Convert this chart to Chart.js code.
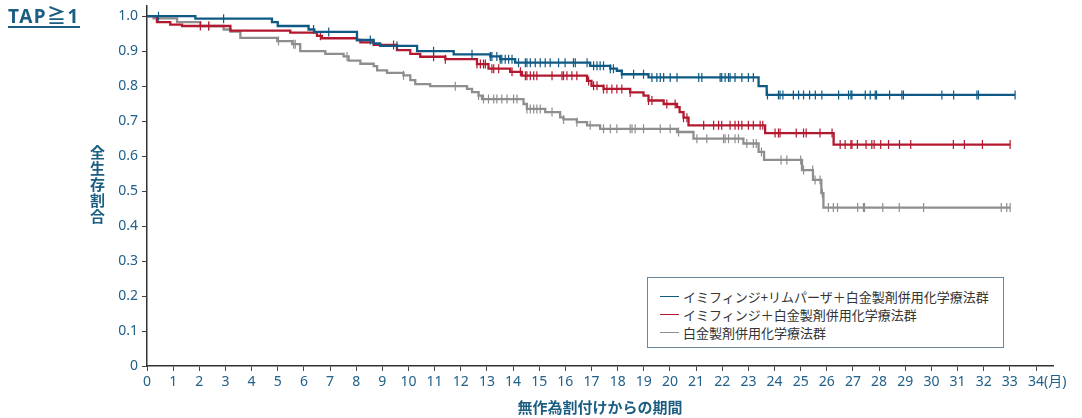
<!DOCTYPE html>
<html><head><meta charset="utf-8">
<script src="https://cdn.jsdelivr.net/npm/chart.js@4"></script>
<style>
html,body{margin:0;padding:0;background:#fff;}
#wrap{position:relative;width:1082px;height:418px;overflow:hidden;}
#c{position:absolute;left:0;top:0;}
#title{position:absolute;left:8px;top:1px;font:bold 19px "Noto Sans","Noto Sans CJK JP",sans-serif;color:#1b5e82;text-decoration:underline;text-underline-offset:3px;text-decoration-thickness:1.5px;letter-spacing:1.5px;}
#ytitle{position:absolute;left:87px;top:145px;writing-mode:vertical-rl;font:bold 15px "Noto Sans CJK JP",sans-serif;color:#1b5e82;letter-spacing:1px;}
#legend{position:absolute;left:647px;top:277px;width:357px;height:71px;border:1px solid #6b8698;box-sizing:border-box;font:13px "Noto Sans CJK JP",sans-serif;color:#333;background:#fff;}
.item{position:absolute;left:12px;height:18px;display:flex;align-items:center;white-space:nowrap;}
.sw{display:inline-block;width:19px;height:0;border-top:1.5px solid;margin-right:4px;}
</style>
</head><body>
<div id="wrap">
<canvas id="c" width="1082" height="418"></canvas>
<div id="title">TAP≧1</div>
<div id="ytitle">全生存割合</div>
<div id="legend"></div>
</div>
<script>
// ---- data ----
const seriesNames = ["イミフィンジ+リムパーザ＋白金製剤併用化学療法群", "イミフィンジ＋白金製剤併用化学療法群", "白金製剤併用化学療法群"];
const seriesColors = ["#0f5a84", "#b3182f", "#8e8e8e"];

const blueT = [0, 1.85, 4.78, 5.0, 6.18, 6.4, 8.03, 8.67, 8.92, 10.33, 11.73, 13.13, 13.51, 14.08, 16.95, 17.72, 17.97, 18.16, 19.18, 23.39, 23.70, 33.2];
const blueS = [1.0, 0.993, 0.983, 0.972, 0.962, 0.955, 0.932, 0.922, 0.915, 0.900, 0.891, 0.885, 0.877, 0.867, 0.858, 0.850, 0.844, 0.834, 0.825, 0.800, 0.775, 0.775];

const redT = [0, 0.38, 0.89, 1.34, 3.19, 5.48, 6.50, 6.69, 8.03, 8.16, 8.67, 9.56, 10.07, 10.45, 11.41, 12.62, 13.06, 13.89, 14.34, 16.83, 17.0, 17.46, 18.48, 18.99, 19.18, 19.76, 20.27, 20.37, 20.52, 20.71, 23.64, 26.26, 33.01];
const redS = [1.0, 0.983, 0.976, 0.972, 0.959, 0.953, 0.944, 0.937, 0.932, 0.925, 0.918, 0.903, 0.892, 0.884, 0.877, 0.863, 0.850, 0.841, 0.830, 0.815, 0.801, 0.792, 0.782, 0.773, 0.759, 0.749, 0.740, 0.726, 0.710, 0.688, 0.666, 0.633, 0.633];

const grayT = [0, 0.25, 1.15, 2.04, 2.93, 3.19, 3.57, 4.98, 5.55, 5.86, 6.82, 7.52, 7.71, 8.16, 8.67, 8.80, 9.18, 9.81, 10.07, 10.26, 10.83, 12.24, 12.43, 12.68, 12.81, 14.40, 14.53, 15.23, 15.80, 15.93, 16.44, 16.83, 17.33, 20.27, 20.90, 22.81, 23.39, 23.60, 25.05, 25.47, 25.79, 25.87, 33.01];
const grayS = [1.0, 0.994, 0.983, 0.972, 0.962, 0.956, 0.938, 0.929, 0.920, 0.900, 0.892, 0.885, 0.873, 0.864, 0.857, 0.845, 0.838, 0.831, 0.817, 0.806, 0.800, 0.792, 0.783, 0.773, 0.763, 0.749, 0.735, 0.726, 0.711, 0.705, 0.697, 0.688, 0.678, 0.669, 0.650, 0.636, 0.612, 0.589, 0.560, 0.532, 0.494, 0.453, 0.453];

const blueCens = [0.44, 2.93, 6.37, 6.95, 8.54, 9.56, 10.96, 12.43, 13.13, 13.19, 13.38, 13.51, 13.57, 13.70, 13.83, 13.96, 14.21, 14.47, 14.53, 14.66, 14.85, 15.04, 15.23, 15.42, 15.74, 15.99, 16.31, 16.38, 16.83, 17.08, 17.21, 17.33, 17.46, 17.72, 17.84, 18.16, 18.61, 18.99, 19.31, 19.50, 19.63, 19.76, 20.01, 20.27, 21.10, 21.22, 21.92, 21.98, 22.11, 22.24, 22.30, 22.49, 22.75, 23.00, 23.19, 23.73, 24.15, 24.21, 24.32, 24.72, 24.92, 25.11, 25.34, 25.56, 25.81, 26.45, 26.83, 26.92, 26.96, 27.47, 27.66, 27.85, 27.90, 28.40, 28.87, 28.93, 30.40, 30.85, 31.74, 31.80, 33.20];
const redCens = [2.04, 2.36, 6.63, 9.43, 10.96, 11.41, 12.62, 12.75, 12.87, 12.94, 13.19, 13.26, 13.45, 13.96, 14.28, 14.47, 14.53, 14.66, 14.79, 14.91, 15.49, 15.87, 15.93, 16.06, 16.25, 16.44, 16.89, 17.08, 17.21, 17.46, 17.59, 17.78, 17.97, 18.16, 18.48, 19.18, 19.31, 19.88, 20.20, 20.52, 20.65, 21.29, 21.67, 21.86, 21.98, 22.30, 22.49, 22.62, 22.75, 23.00, 23.19, 23.45, 23.55, 24.02, 24.15, 24.21, 24.83, 25.11, 25.21, 25.74, 26.20, 26.51, 26.70, 26.92, 26.96, 27.17, 27.50, 27.72, 27.81, 28.06, 28.36, 28.78, 29.21, 30.84, 31.26, 31.95, 33.01];
const grayCens = [2.36, 5.03, 5.61, 5.67, 7.65, 9.81, 11.79, 12.68, 12.87, 13.06, 13.26, 13.38, 13.57, 13.77, 14.02, 14.15, 14.53, 14.66, 14.79, 14.91, 15.04, 15.49, 15.93, 16.44, 16.95, 17.46, 17.72, 17.97, 18.48, 18.55, 18.67, 18.99, 19.63, 20.01, 20.33, 21.03, 21.41, 22.05, 22.11, 22.24, 22.49, 22.62, 22.94, 23.19, 23.30, 23.50, 24.25, 24.47, 25.00, 25.11, 25.46, 25.55, 25.74, 25.83, 26.06, 26.25, 26.41, 27.18, 27.40, 27.44, 28.14, 28.77, 29.70, 32.67, 32.88, 33.01];

const xTicks = [0,1,2,3,4,5,6,7,8,9,10,11,12,13,14,15,16,17,18,19,20,21,22,23,24,25,26,27,28,29,30,31,32,33,34];
const yTicks = [0,0.1,0.2,0.3,0.4,0.5,0.6,0.7,0.8,0.9,1.0];
const xUnit = "(月)";
const xTitle = "無作為割付けからの期間";

// ---- helpers ----
function stepData(t, s){ return t.map((v,i)=>({x:v, y:s[i]})); }
function survAt(t, s, x){ let v = s[0]; for (let i=0;i<t.length;i++){ if (t[i] <= x) v = s[i]; else break; } return v; }
function censData(c, t, s){ return c.map(x=>({x:x, y:survAt(t,s,x)})); }

const TXT = "#22618a";
const curves = [[blueT, blueS, blueCens], [redT, redS, redCens], [grayT, grayS, grayCens]];
const datasets = [];
curves.forEach((cv, i) => {
  datasets.push({type:'line', label:seriesNames[i], data:stepData(cv[0], cv[1]), stepped:true, borderColor:seriesColors[i], borderWidth:2.3, pointRadius:0, fill:false, order:i});
});
curves.forEach((cv, i) => {
  datasets.push({type:'scatter', label:'cens'+i, data:censData(cv[2], cv[0], cv[1]), pointStyle:'line', rotation:90, radius:4.5, pointRadius:4.5, borderColor:seriesColors[i], backgroundColor:seriesColors[i], pointBorderWidth:1.2, borderWidth:1.2, showLine:false, order:i});
});

// legend (html)
const lg = document.getElementById('legend');
seriesNames.forEach((n, i) => {
  const d = document.createElement('div');
  d.className = 'item';
  d.style.top = (9 + i*18) + 'px';
  d.innerHTML = '<span class="sw" style="border-color:' + seriesColors[i] + '"></span><span>' + n + '</span>';
  lg.appendChild(d);
});

const unitPlugin = {
  id:'unit',
  afterDraw(chart){
    const xs = chart.scales.x; const ctx = chart.ctx;
    ctx.save();
    ctx.font = '14px "Noto Sans", sans-serif';
    const w = ctx.measureText('34').width;
    ctx.fillStyle = TXT; ctx.textAlign = 'left'; ctx.textBaseline = 'middle';
    const lastLabelY = xs.top + 5 + 3 + 8.4;
    ctx.font = '14px "Noto Sans", "Noto Sans CJK JP", sans-serif';
    ctx.fillText(xUnit, xs.getPixelForValue(xTicks[xTicks.length-1]) + w/2, lastLabelY);
    ctx.restore();
  }
};

new Chart(document.getElementById('c'), {
  data:{datasets},
  options:{
    responsive:false, animation:false, devicePixelRatio:1,
    layout:{padding:{left:0, top:3, right:29, bottom:0}},
    plugins:{legend:{display:false}, tooltip:{enabled:false}},
    scales:{
      x:{type:'linear', min:0, max:34.65,
        afterBuildTicks:s=>{ s.ticks = xTicks.map(v=>({value:v})); },
        afterFit:s=>{ s.height = 52; s.paddingLeft = 0; s.paddingRight = 0; },
        ticks:{autoSkip:false, maxRotation:0, padding:3, color:TXT, font:{family:'"Noto Sans", sans-serif', size:14}, callback:v=>String(v)},
        grid:{drawOnChartArea:false, drawTicks:true, tickLength:5, color:'#444', lineWidth:1},
        border:{display:true, color:'#333', width:1.5},
        title:{display:true, text:xTitle, color:'#1b5e82', font:{family:'"Noto Sans CJK JP", sans-serif', size:15, weight:'bold'}, padding:{top:0, bottom:2}}
      },
      y:{type:'linear', min:0, max:1.03,
        afterBuildTicks:s=>{ s.ticks = yTicks.map(v=>({value:v})); },
        afterFit:s=>{ s.width = 147; s.paddingTop = 0; s.paddingBottom = 0; },
        ticks:{padding:4, color:TXT, font:{family:'"Noto Sans", sans-serif', size:14}, callback:v=> v===0 ? '0' : v.toFixed(1)},
        grid:{drawOnChartArea:false, drawTicks:true, tickLength:5, color:'#444', lineWidth:1},
        border:{display:true, color:'#333', width:1.5}
      }
    }
  },
  plugins:[unitPlugin]
});
</script>
</body></html>
